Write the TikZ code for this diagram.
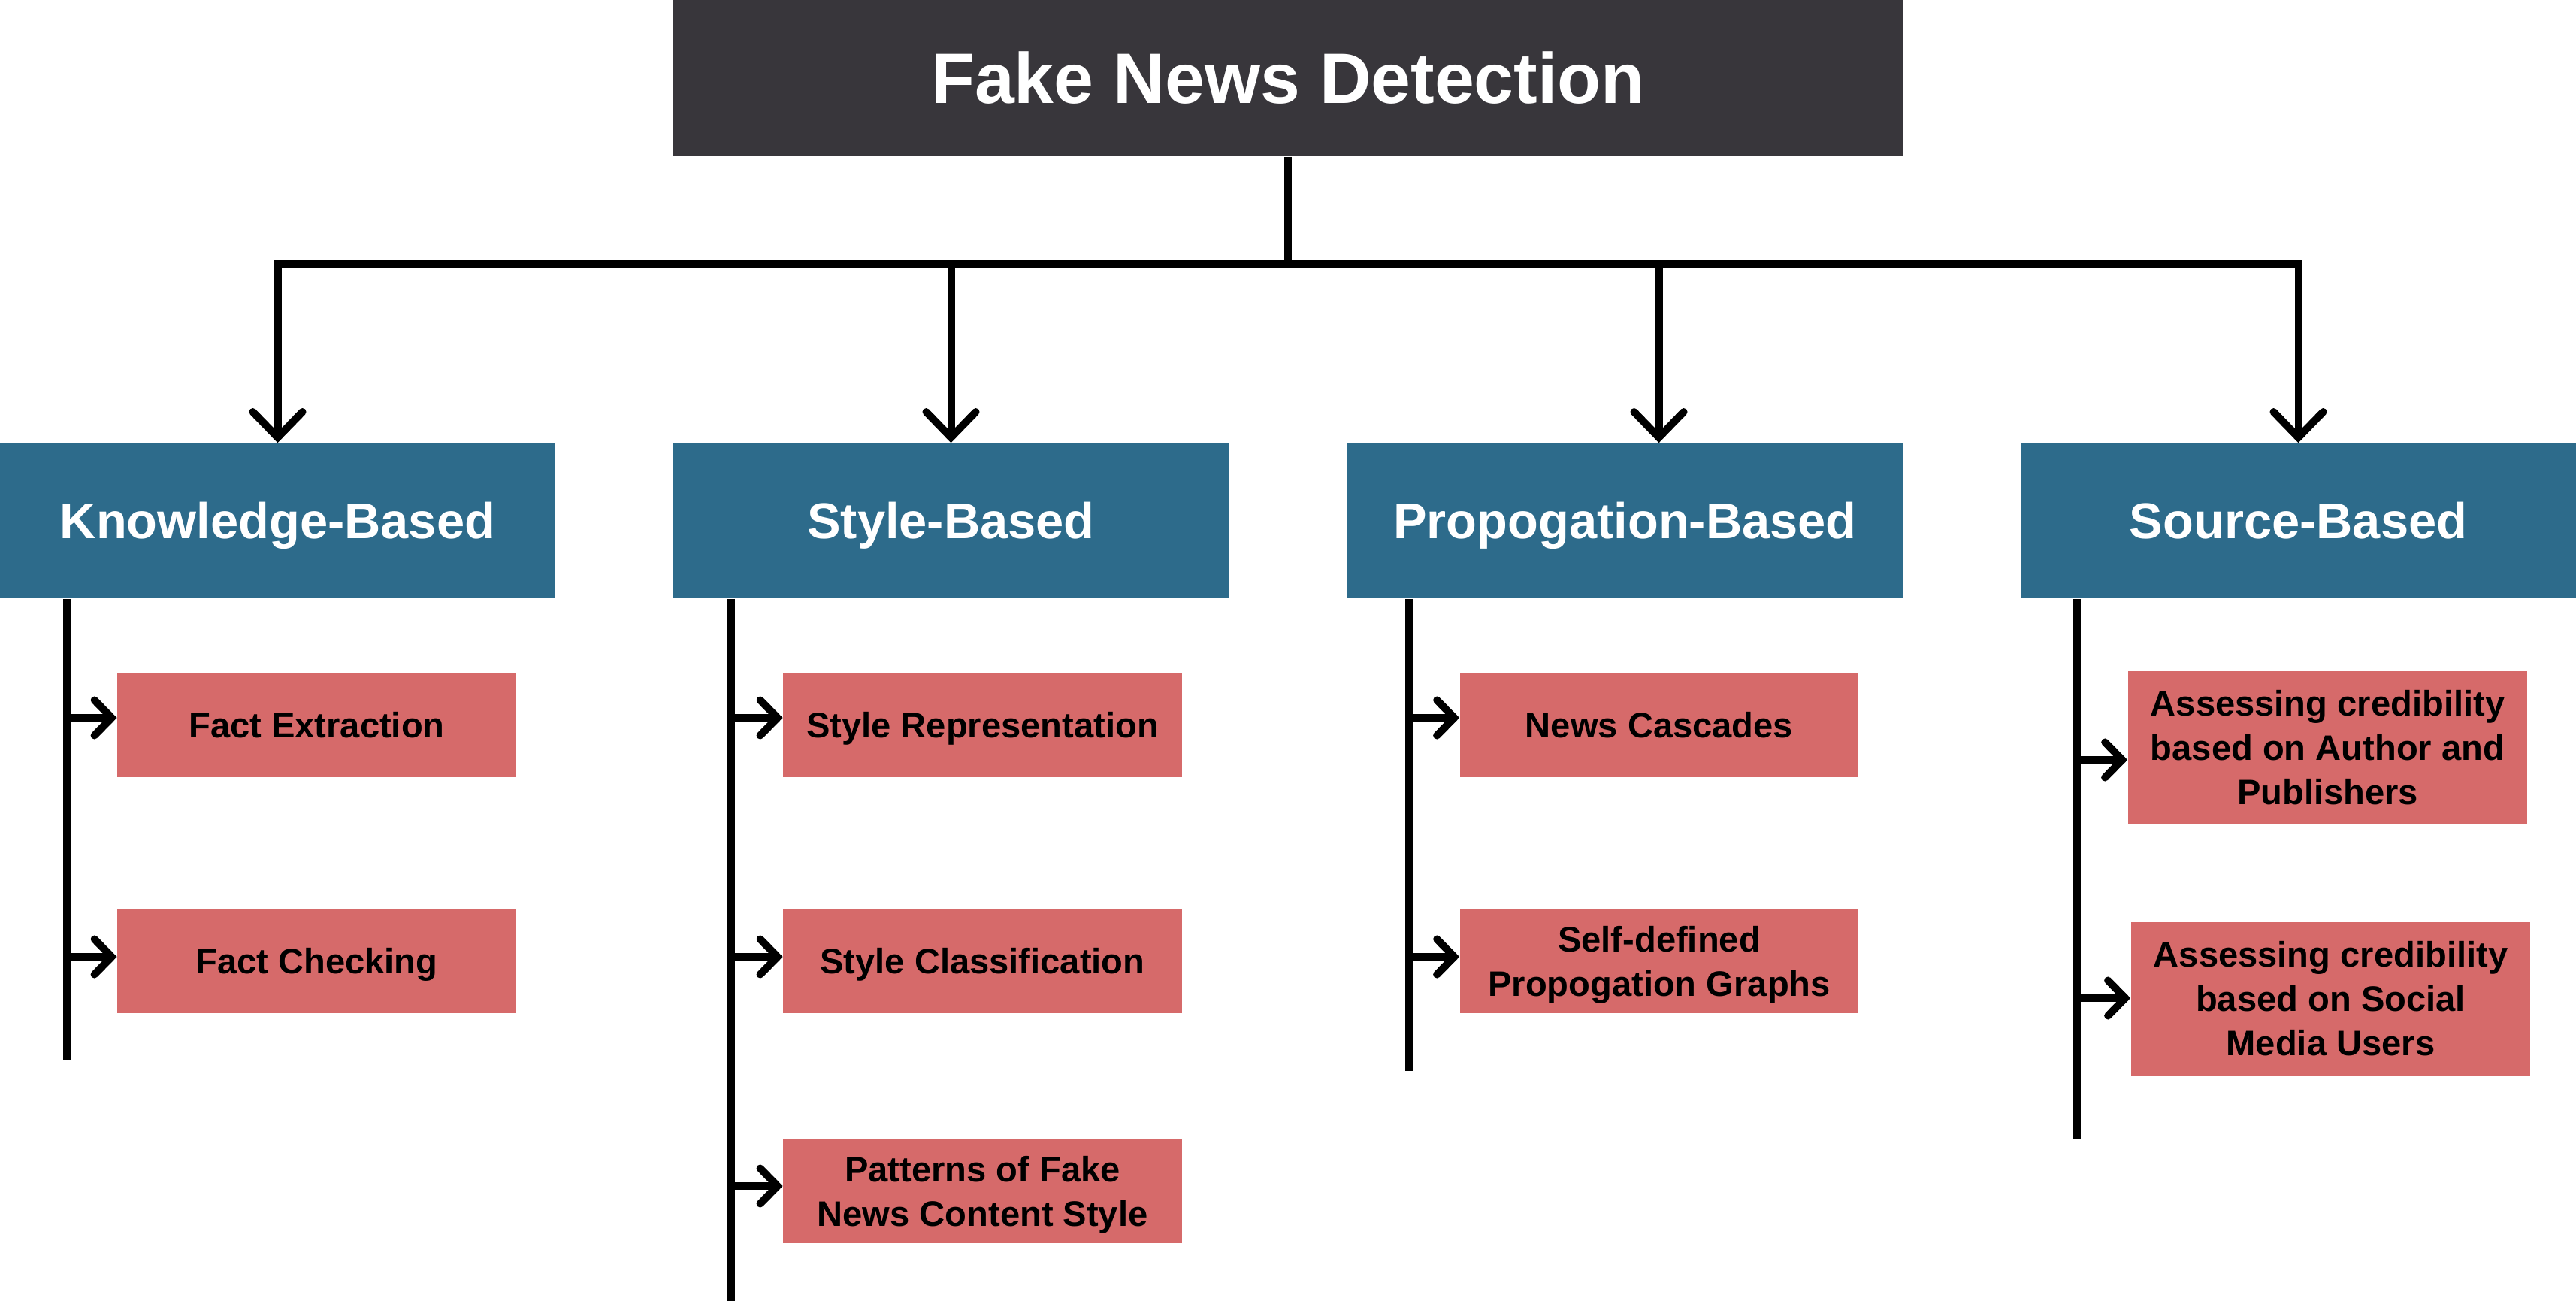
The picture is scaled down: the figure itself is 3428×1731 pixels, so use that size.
\documentclass[tikz,border=0pt]{standalone}
\usepackage{fontspec}
\setmainfont{Liberation Sans}
\usetikzlibrary{arrows.meta}
\definecolor{rootfill}{HTML}{38363B}
\definecolor{catfill}{HTML}{2D6B8B}
\definecolor{leaffill}{HTML}{D66A6A}
\begin{document}
\begin{tikzpicture}[x=0.01cm,y=-0.01cm,
  rootbox/.style={fill=rootfill,text=white,inner sep=0pt,minimum width=16.36cm,minimum height=2.08cm,
    text height=19.3pt,text depth=0pt,font=\fontsize{27}{32}\selectfont\bfseries},
  catbox/.style={fill=catfill,text=white,inner sep=0pt,minimum width=7.39cm,minimum height=2.06cm,
    text height=13.6pt,text depth=0pt,font=\fontsize{19}{23}\selectfont\bfseries},
  leafbox/.style={fill=leaffill,text=black,inner sep=0pt,minimum width=5.3cm,minimum height=1.37cm,
    align=center,text height=9.6pt,text depth=0pt,font=\fontsize{13.4}{16.8}\selectfont\bfseries},
  twolines/.style={text height=26.4pt},
  threelines/.style={text height=43.2pt},
  wire/.style={line width=0.1cm,black},
  droparrow/.style={wire,-{Straight Barb[length=0.34cm,width=0.66cm,line cap=round]}},
  leafarrow/.style={wire,-{Straight Barb[length=0.23cm,width=0.47cm,line cap=round]}},
]
\useasboundingbox[fill=white] (0,0) rectangle (3428,1731);

% root
\node[rootbox] (root) at (1714,104) {Fake News Detection};

% categories
\node[catbox] (kb)  at (369.5,693)  {Knowledge-Based};
\node[catbox] (sb)  at (1265.5,693) {Style-Based};
\node[catbox] (pb)  at (2162.5,693) {Propogation-Based};
\node[catbox] (srb) at (3058.5,693) {Source-Based};

% leaves
\node[leafbox] (fe) at (421.5,965)  {Fact Extraction};
\node[leafbox] (fc) at (421.5,1279) {Fact Checking};
\node[leafbox] (sr) at (1307.5,965)  {Style Representation};
\node[leafbox] (sc) at (1307.5,1279) {Style Classification};
\node[leafbox,twolines] (pf) at (1307.5,1585) {Patterns of Fake\\News Content Style};
\node[leafbox] (nc) at (2208,965)  {News Cascades};
\node[leafbox,twolines] (sd) at (2208,1279) {Self-defined\\Propogation Graphs};
\node[leafbox,threelines,minimum width=5.31cm,minimum height=2.03cm] (ac1) at (3097.5,994.5)
  {Assessing credibility\\based on Author and\\Publishers};
\node[leafbox,threelines,minimum width=5.31cm,minimum height=2.04cm] (ac2) at (3101.5,1329)
  {Assessing credibility\\based on Social\\Media Users};

% bus from the root to the categories
\coordinate (bus) at (1714,351);
\coordinate (pbin) at ([xshift=0.45cm]pb.north);
\draw[wire] (root.south) -- (bus);
\draw[droparrow] (bus) -| (kb.north);
\draw[droparrow] (bus) -| (sb.north);
\draw[droparrow] (bus) -| (pbin);
\draw[droparrow] (bus) -| (srb.north);

% spines below each category
\coordinate (kbfoot) at (89,1410);
\coordinate (sbfoot) at (973,1731);
\coordinate (pbfoot) at (1875,1425);
\coordinate (srfoot) at (2764,1516);
\draw[wire] (kb.south -| kbfoot) -- (kbfoot);
\draw[wire] (sb.south -| sbfoot) -- (sbfoot);
\draw[wire] (pb.south -| pbfoot) -- (pbfoot);
\draw[wire] (srb.south -| srfoot) -- (srfoot);

% rows of the branch arrows
\coordinate (rowa) at (0,955);
\coordinate (rowb) at (0,1273);
\coordinate (rowc) at (0,1578);
\coordinate (rowd) at (0,1011);
\coordinate (rowe) at (0,1328);

\draw[leafarrow] (kbfoot |- rowa) -- (fe.west |- rowa);
\draw[leafarrow] (kbfoot |- rowb) -- (fc.west |- rowb);
\draw[leafarrow] (sbfoot |- rowa) -- (sr.west |- rowa);
\draw[leafarrow] (sbfoot |- rowb) -- (sc.west |- rowb);
\draw[leafarrow] (sbfoot |- rowc) -- (pf.west |- rowc);
\draw[leafarrow] (pbfoot |- rowa) -- (nc.west |- rowa);
\draw[leafarrow] (pbfoot |- rowb) -- (sd.west |- rowb);
\draw[leafarrow] (srfoot |- rowd) -- (ac1.west |- rowd);
\draw[leafarrow] (srfoot |- rowe) -- (ac2.west |- rowe);
\end{tikzpicture}
\end{document}
